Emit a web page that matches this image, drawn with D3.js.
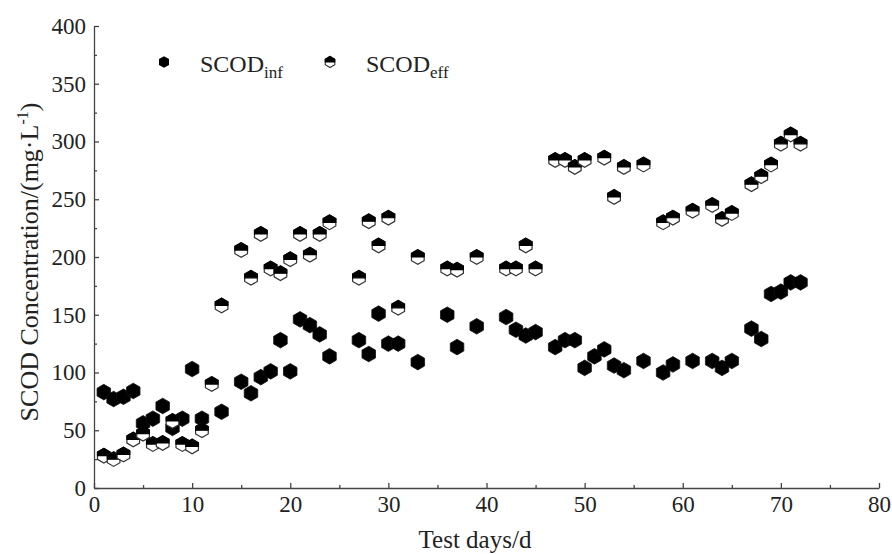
<!DOCTYPE html>
<html>
<head>
<meta charset="utf-8">
<script src="https://cdn.jsdelivr.net/npm/d3@7"></script>
<style>
  html, body { margin: 0; padding: 0; background: #fff; }
  svg { display: block; font-family: "Liberation Serif", "Times New Roman", serif; }
</style>
</head>
<body>
<svg id="chart" width="892" height="554"></svg>
<script>
// SCOD influent / effluent readings
const infDays = [1, 2, 3, 4, 5, 6, 7, 8, 9, 10, 11, 13, 15, 16, 17, 18, 19, 20, 21, 22, 23, 24,
  27, 28, 29, 30, 31, 33, 36, 37, 39, 42, 43, 44, 45, 47, 48, 49, 50, 51, 52, 53, 54, 56,
  58, 59, 61, 63, 64, 65, 67, 68, 69, 70, 71, 72];
const infValues = [83, 77, 79, 84, 56, 60, 71, 52, 60, 103, 60, 66, 92, 82, 96, 101, 128, 101, 146, 141, 133, 114,
  128, 116, 151, 125, 125, 109, 150, 122, 140, 148, 137, 132, 135, 122, 128, 128, 104, 114, 120, 106, 102, 110,
  100, 107, 110, 110, 104, 110, 138, 129, 168, 170, 178, 178];

const effDays = [1, 2, 3, 4, 5, 6, 7, 8, 9, 10, 11, 12, 13, 15, 16, 17, 18, 19, 20, 21, 22, 23, 24,
  27, 28, 29, 30, 31, 33, 36, 37, 39, 42, 43, 44, 45, 47, 48, 49, 50, 52, 53, 54, 56,
  58, 59, 61, 63, 64, 65, 67, 68, 69, 70, 71, 72];
const effValues = [28, 25, 29, 42, 47, 38, 39, 58, 38, 36, 50, 90, 158, 206, 182, 220, 190, 186, 198, 220, 202, 220, 230,
  182, 231, 210, 234, 156, 200, 190, 189, 200, 190, 190, 210, 190, 284, 284, 278, 284, 286, 252, 278, 280,
  230, 234, 240, 245, 233, 238, 263, 270, 280, 298, 306, 298];

const xTicks = [0, 10, 20, 30, 40, 50, 60, 70, 80];
const xMinor = [5, 15, 25, 35, 45, 55, 65, 75];
const yTicks = [0, 50, 100, 150, 200, 250, 300, 350, 400];
const yMinor = [25, 75, 125, 175, 225, 275, 325, 375];

const svg = d3.select('#chart');
const margin = { top: 26, right: 13, bottom: 66, left: 94 };
const width = 892 - margin.left - margin.right;
const height = 554 - margin.top - margin.bottom;
const g = svg.append('g').attr('transform', `translate(${margin.left},${margin.top})`);

const x = d3.scaleLinear().domain([0, 80]).range([0, width]);
const y = d3.scaleLinear().domain([0, 400]).range([height, 0]);

const axisColor = '#444';
const labelColor = '#222';

// hexagon with pointed top/bottom
function hexPath(r) {
  const w = r * Math.cos(Math.PI / 6);
  return `M0,${-r}L${w},${-r / 2}L${w},${r / 2}L0,${r}L${-w},${r / 2}L${-w},${-r / 2}Z`;
}
function hexTopHalf(r) {
  const w = r * Math.cos(Math.PI / 6);
  return `M${-w},0L${-w},${-r / 2}L0,${-r}L${w},${-r / 2}L${w},0Z`;
}

// x axis
const xAxis = g.append('g')
  .attr('transform', `translate(0,${height})`)
  .call(d3.axisBottom(x).tickValues(xTicks).tickSize(-5).tickSizeOuter(0).tickPadding(8));
xAxis.select('.domain').attr('stroke', axisColor).attr('stroke-width', 1.3);
xAxis.selectAll('.tick line').attr('stroke', axisColor).attr('stroke-width', 1.3);
xAxis.selectAll('.tick text')
  .attr('font-size', 23).attr('fill', labelColor)
  .attr('font-family', '"Liberation Serif", serif');

g.append('g')
  .attr('transform', `translate(0,${height})`)
  .call(d3.axisBottom(x).tickValues(xMinor).tickSize(-3).tickFormat(''))
  .call(a => a.select('.domain').remove())
  .selectAll('.tick line').attr('stroke', axisColor).attr('stroke-width', 1.3);

// y axis
const yAxis = g.append('g')
  .call(d3.axisLeft(y).tickValues(yTicks).tickSize(-5).tickSizeOuter(0).tickPadding(8));
yAxis.select('.domain').attr('stroke', axisColor).attr('stroke-width', 1.3);
yAxis.selectAll('.tick line').attr('stroke', axisColor).attr('stroke-width', 1.3);
yAxis.selectAll('.tick text')
  .attr('font-size', 23).attr('fill', labelColor)
  .attr('font-family', '"Liberation Serif", serif');

g.append('g')
  .call(d3.axisLeft(y).tickValues(yMinor).tickSize(-3).tickFormat(''))
  .call(a => a.select('.domain').remove())
  .selectAll('.tick line').attr('stroke', axisColor).attr('stroke-width', 1.3);

// axis titles
svg.append('text')
  .attr('x', 475).attr('y', 548)
  .attr('text-anchor', 'middle')
  .attr('font-size', 25).attr('fill', labelColor)
  .text('Test days/d');

const yTitle = svg.append('text')
  .attr('transform', 'translate(38,262) rotate(-90)')
  .attr('text-anchor', 'middle')
  .attr('font-size', 26).attr('fill', labelColor);
yTitle.append('tspan').text('SCOD Concentration/(mg·L');
yTitle.append('tspan').attr('font-size', 16).attr('dy', -10).text('-1');
yTitle.append('tspan').attr('dy', 10).text(')');

// data points
const infData = infDays.map((d, i) => ({ day: d, value: infValues[i] }));
const effData = effDays.map((d, i) => ({ day: d, value: effValues[i] }));
const r = 7.8;

g.append('g').attr('class', 'inf')
  .selectAll('path')
  .data(infData)
  .enter()
  .append('path')
  .attr('transform', d => `translate(${x(d.day)},${y(d.value)})`)
  .attr('d', hexPath(r))
  .attr('fill', '#000')
  .attr('stroke', '#111')
  .attr('stroke-width', 0.8);

const effG = g.append('g').attr('class', 'eff')
  .selectAll('g')
  .data(effData)
  .enter()
  .append('g')
  .attr('transform', d => `translate(${x(d.day)},${y(d.value)})`);
effG.append('path')
  .attr('d', hexPath(r - 0.5))
  .attr('fill', '#fff')
  .attr('stroke', '#333')
  .attr('stroke-width', 1.2);
effG.append('path')
  .attr('d', hexTopHalf(r - 0.5))
  .attr('fill', '#000')
  .attr('stroke', '#000')
  .attr('stroke-width', 1.2);

// legend
const legend = svg.append('g');
legend.append('path')
  .attr('transform', 'translate(164,62)')
  .attr('d', hexPath(5.8))
  .attr('fill', '#000');
const l1 = legend.append('text')
  .attr('x', 200).attr('y', 72)
  .attr('font-size', 24).attr('fill', labelColor);
l1.append('tspan').text('SCOD');
l1.append('tspan').attr('font-size', 17).attr('dy', 6).text('inf');

const le = legend.append('g').attr('transform', 'translate(330,62)');
le.append('path').attr('d', hexPath(5.5)).attr('fill', '#fff').attr('stroke', '#333').attr('stroke-width', 1.1);
le.append('path').attr('d', hexTopHalf(5.5)).attr('fill', '#000').attr('stroke', '#000').attr('stroke-width', 1.1);
const l2 = legend.append('text')
  .attr('x', 366).attr('y', 72)
  .attr('font-size', 24).attr('fill', labelColor);
l2.append('tspan').text('SCOD');
l2.append('tspan').attr('font-size', 17).attr('dy', 6).text('eff');
</script>
</body>
</html>
